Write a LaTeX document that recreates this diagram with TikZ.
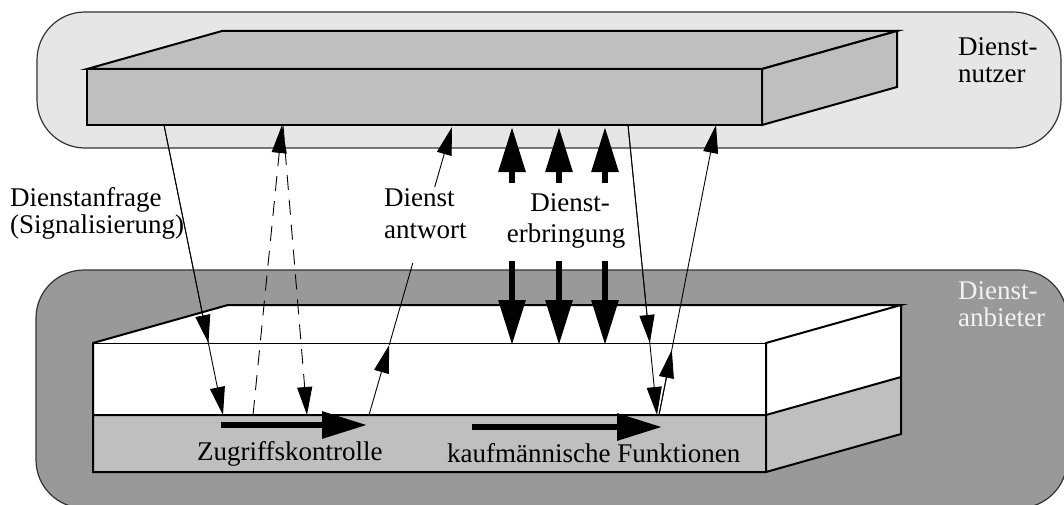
\documentclass[tikz,border=0pt]{standalone}
\usepackage{fontspec}
\setmainfont{Liberation Serif}
\usetikzlibrary{arrows.meta}
\definecolor{userbg}{HTML}{E6E6E6}
\definecolor{provbg}{HTML}{999999}
\definecolor{slab}{HTML}{BFBFBF}
\definecolor{rim}{HTML}{333333}
\definecolor{pale}{HTML}{F2F2F2}
\begin{document}
\begin{tikzpicture}[x=1pt,y=-1pt,
  lbl/.style={font=\fontsize{27}{31}\selectfont, inner sep=0pt, anchor=base west},
  lblc/.style={lbl, anchor=base},
  zone/.style={draw=rim, line width=1.2pt, rounded corners=48pt},
  edge/.style={draw=black, line width=2pt, line join=miter},
  plain/.style={line width=0.9pt},
  thinarrow/.style={plain, -{Triangle[length=28pt,width=15pt]}},
  boldarrow/.style={line width=6pt, -{Triangle[length=45pt,width=26pt]}},
  dasharrow/.style={thinarrow, dash pattern=on 15pt off 10pt}]
\useasboundingbox (0,0) rectangle (1064,505);

% user and provider zones
\path[zone, fill=userbg] (37,12) rectangle (1061,148);
\path[zone, fill=provbg] (36,270) rectangle (1067,508);

% user slab (grey block)
\filldraw[edge, fill=slab] (87,69) -- (222,31) -- (897,31) -- (762,69) -- cycle;
\filldraw[edge, fill=slab] (762,69) -- (897,31) -- (897,87) -- (762,125) -- cycle;
\filldraw[edge, fill=slab] (87,69) rectangle (762,125);

% provider slab: white upper layer, grey lower layer
\fill[white] (93,343) -- (228,305) -- (901,305) -- (766,343) -- cycle;
\fill[white] (93,343) rectangle (766,415);
\fill[white] (766,343) -- (901,305) -- (901,377) -- (766,415) -- cycle;
\fill[slab] (93,415) rectangle (766,472);
\fill[slab] (766,415) -- (901,377) -- (901,434) -- (766,472) -- cycle;
\draw[line width=1pt] (93,343) -- (766,343);
\draw[edge] (93,415) -- (93,343) -- (228,305) -- (901,305) -- (766,343) -- (766,472);
\draw[edge] (901,305) -- (901,434) -- (766,472) -- (93,472) -- (93,415) -- (766,415) -- (901,377);

% arrow end points
\coordinate (reqA) at (164,125);
\coordinate (reqM) at (208.4,343);
\coordinate (reqB) at (223,415);
\coordinate (upA) at (253,415);
\coordinate (upB) at (282,125);
\coordinate (dnA) at (283,125);
\coordinate (dnB) at (307,415);
\coordinate (ansA) at (369,415);
\coordinate (ansM) at (389.2,345);
\coordinate (ansG1) at (412.8,263);
\coordinate (ansG2) at (434.7,187);
\coordinate (ansB) at (452,127);
\coordinate (rdA) at (628,125);
\coordinate (rdM) at (649.8,343);
\coordinate (rdB) at (657,415);
\coordinate (ruA) at (659,415);
\coordinate (ruM) at (671.8,350);
\coordinate (ruB) at (716,125);

% request (signalling)
\draw[thinarrow] (reqA) -- (reqB);
\draw[thinarrow] (reqA) -- (reqM);
% dashed exchange
\draw[dasharrow] (upA) -- (upB);
\draw[dasharrow] (dnA) -- (dnB);
% answer, broken by its label
\draw[thinarrow] (ansA) -- (ansM);
\draw[plain] (ansM) -- (ansG1);
\draw[thinarrow] (ansG2) -- (ansB);
% right pair
\draw[thinarrow] (rdA) -- (rdB);
\draw[thinarrow] (rdA) -- (rdM);
\draw[thinarrow] (ruA) -- (ruB);
\draw[thinarrow] (ruA) -- (ruM);

% service delivery
\foreach \x/\n in {512/a,559/b,605/c}{
  \coordinate (upS\n) at (\x,183);
  \coordinate (upT\n) at (\x,127);
  \coordinate (dnS\n) at (\x,261);
  \coordinate (dnT\n) at (\x,345);
  \draw[boldarrow] (upS\n) -- (upT\n);
  \draw[boldarrow] (dnS\n) -- (dnT\n);
}

% internal flows
\coordinate (zkA) at (221,425);
\coordinate (zkB) at (367,425);
\coordinate (kfA) at (472,427);
\coordinate (kfB) at (662,427);
\draw[boldarrow] (zkA) -- (zkB);
\draw[boldarrow] (kfA) -- (kfB);

% labels
\node[lbl] (reqL1) at (10,206) {Dienstanfrage};
\node[lbl] (reqL2) at (10,233) {(Signalisierung)};
\node[lbl] (ansL1) at (384,206) {Dienst};
\node[lbl] (ansL2) at (384,238) {antwort};
\node[lblc] (delL1) at (570,211) {Dienst-};
\node[lblc] (delL2) at (566,242) {erbringung};
\node[lbl] (usrL1) at (958,56) {Dienst-};
\node[lbl] (usrL2) at (958,83) {nutzer};
\node[lbl, text=pale] (prvL1) at (958,299) {Dienst-};
\node[lbl, text=pale] (prvL2) at (958,326) {anbieter};
\node[lbl] (zkL) at (197,460) {Zugriffskontrolle};
\node[lbl] (kfL) at (447,462) {kaufmännische Funktionen};
\end{tikzpicture}
\end{document}
